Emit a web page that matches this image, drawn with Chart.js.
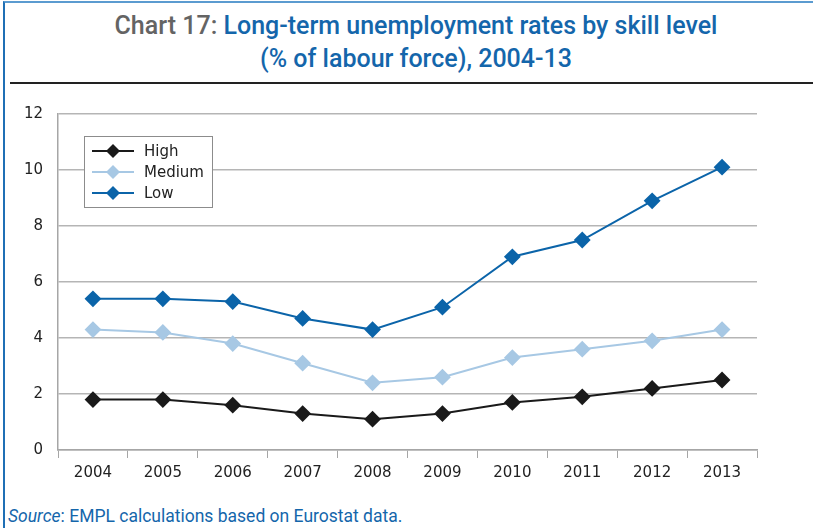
<!DOCTYPE html>
<html>
<head>
<meta charset="utf-8">
<script src="https://cdn.jsdelivr.net/npm/chart.js@4"></script>
<style>
  html, body { margin: 0; padding: 0; background: #fff; }
  #page { position: relative; width: 813px; height: 528px; overflow: hidden; }
  #frame { position: absolute; left: 3px; top: 1px; width: 820px; height: 540px;
           border-left: 2px solid #1f6fb5; border-top: 2px solid #5b9bd0; }
  #title { position: absolute; left: 0; top: 9px; width: 832px; text-align: center;
           font-family: Roboto, sans-serif;
           font-weight: 500; font-size: 25px; line-height: 33px; color: #1466ab; }
  #title .lead { color: #646464; }
  #rule { position: absolute; left: 10px; top: 82px; width: 803px; height: 2px; background: #222; }
  #wrap { position: absolute; left: 0; top: 90px; width: 813px; height: 400px; }
  #source { position: absolute; left: 8px; top: 506px;
            font-family: Roboto, sans-serif;
            font-size: 17.5px; color: #1466ab; }
</style>
</head>
<body>
<div id="page">
  <div id="frame"></div>
  <div id="title"><span class="lead">Chart 17:</span> Long-term unemployment rates by skill level<br>(% of labour force), 2004-13</div>
  <div id="rule"></div>
  <div id="wrap"><canvas id="myChart" width="813" height="400"></canvas></div>
  <div id="source"><i>Source</i>: EMPL calculations based on Eurostat data.</div>
</div>
<script>
const years = ['2004', '2005', '2006', '2007', '2008', '2009', '2010', '2011', '2012', '2013'];
const high = [1.8, 1.8, 1.6, 1.3, 1.1, 1.3, 1.7, 1.9, 2.2, 2.5];
const medium = [4.3, 4.2, 3.8, 3.1, 2.4, 2.6, 3.3, 3.6, 3.9, 4.3];
const low = [5.4, 5.4, 5.3, 4.7, 4.3, 5.1, 6.9, 7.5, 8.9, 10.1];
const seriesNames = ['High', 'Medium', 'Low'];
const colours = ['#1a1a1a', '#a7c8e4', '#0b64a9'];

const tickFont = { family: '"DejaVu Sans", sans-serif', size: 15 };

// legend box drawn inside the plot, like the original
const boxLegend = {
  id: 'boxLegend',
  afterDraw(chart) {
    const ctx = chart.ctx;
    const x = 84, y = 46, w = 128, h = 71;
    ctx.save();
    ctx.fillStyle = '#fff';
    ctx.fillRect(x, y, w, h);
    ctx.strokeStyle = '#8c8c8c';
    ctx.lineWidth = 1;
    ctx.strokeRect(x + 0.5, y + 0.5, w, h);
    chart.data.datasets.forEach(function(ds, i) {
      const cy = y + 15 + i * 21;
      ctx.strokeStyle = ds.borderColor;
      ctx.lineWidth = 2;
      ctx.beginPath();
      ctx.moveTo(x + 8, cy);
      ctx.lineTo(x + 50, cy);
      ctx.stroke();
      ctx.fillStyle = ds.borderColor;
      ctx.beginPath();
      ctx.moveTo(x + 29, cy - 7);
      ctx.lineTo(x + 36, cy);
      ctx.lineTo(x + 29, cy + 7);
      ctx.lineTo(x + 22, cy);
      ctx.closePath();
      ctx.fill();
      ctx.fillStyle = '#222';
      ctx.font = '15px "DejaVu Sans", sans-serif';
      ctx.textBaseline = 'middle';
      ctx.fillText(ds.label, x + 60, cy + 1);
    });
    ctx.restore();
  }
};

const data = {
  labels: years,
  datasets: [high, medium, low].map(function(vals, i) {
    return {
      label: seriesNames[i],
      data: vals,
      borderColor: colours[i],
      backgroundColor: colours[i],
      borderWidth: 2,
      pointStyle: 'rectRot',
      pointRadius: 7,
      pointHoverRadius: 7,
      tension: 0
    };
  })
};

const config = {
  type: 'line',
  data: data,
  options: {
    responsive: false,
    animation: false,
    layout: { padding: { left: 0, right: 56, top: 22, bottom: 0 } },
    plugins: { legend: { display: false }, title: { display: false }, tooltip: { enabled: false } },
    scales: {
      x: {
        offset: true,
        grid: { offset: true, drawOnChartArea: false, drawTicks: true, tickLength: 8, color: '#a6a6a6', lineWidth: 1 },
        border: { color: '#a6a6a6', width: 1.5 },
        ticks: { color: '#222', font: tickFont, padding: 6, maxRotation: 0 },
        afterFit: function(s) { s.height = 40; }
      },
      y: {
        min: 0, max: 12,
        ticks: { stepSize: 2, color: '#222', font: tickFont, padding: 15 },
        grid: { color: '#b5b5b5', lineWidth: 1.5, drawTicks: false },
        border: { color: '#a6a6a6', width: 1.5 },
        afterFit: function(s) { s.width = 58; }
      }
    }
  },
  plugins: [boxLegend]
};

const myChart = new Chart(document.getElementById('myChart').getContext('2d'), config);
</script>
</body>
</html>
